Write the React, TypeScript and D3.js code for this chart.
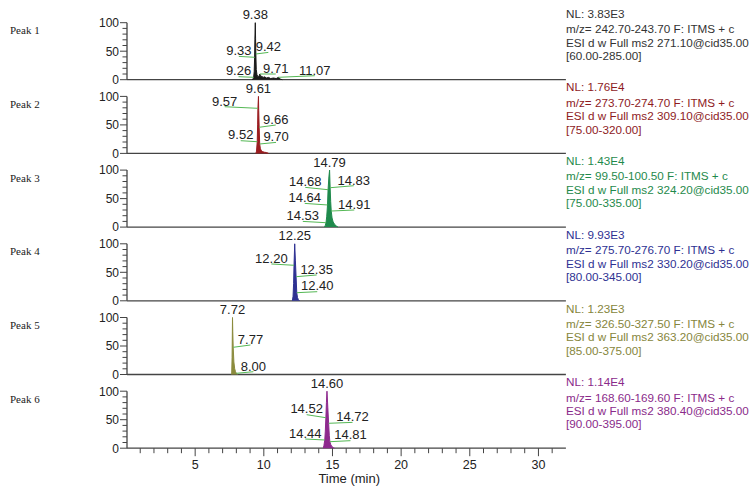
import React from 'react';
import * as d3 from 'd3';

// ---- data ----
const peakNames = ['Peak 1', 'Peak 2', 'Peak 3', 'Peak 4', 'Peak 5', 'Peak 6'];
const nlValues = ['NL: 3.83E3', 'NL: 1.76E4', 'NL: 1.43E4', 'NL: 9.93E3', 'NL: 1.23E3', 'NL: 1.14E4'];
const mzRanges = ['242.70-243.70', '273.70-274.70', '99.50-100.50', '275.70-276.70', '326.50-327.50', '168.60-169.60'];
const precursors = ['271.10', '309.10', '324.20', '330.20', '363.20', '380.40'];
const scanRanges = ['[60.00-285.00]', '[75.00-320.00]', '[75.00-335.00]', '[80.00-345.00]', '[85.00-375.00]', '[90.00-395.00]'];
const timeTicks = [5, 10, 15, 20, 25, 30];
const yTicks = [0, 50, 100];

// [time (min), relative abundance %]
const trace1: [number, number][] = [[9.15, 0], [9.22, 1.5], [9.26, 4.2], [9.30, 14], [9.33, 39.3], [9.35, 70], [9.38, 100], [9.40, 72], [9.42, 45.1], [9.45, 18], [9.50, 9], [9.55, 6], [9.61, 5], [9.66, 7], [9.71, 10], [9.78, 5], [9.85, 6], [9.95, 4], [10.05, 5], [10.2, 3], [10.35, 4], [10.5, 2], [10.7, 3], [10.9, 2], [11.07, 4.2], [11.2, 1], [11.35, 0]];
const trace2: [number, number][] = [[9.42, 0], [9.47, 4], [9.52, 20.5], [9.55, 50], [9.57, 79.1], [9.61, 100], [9.63, 75], [9.66, 45.8], [9.70, 16.5], [9.75, 8], [9.82, 5], [9.92, 3], [10.05, 2], [10.2, 1.5], [10.35, 0]];
const trace3: [number, number][] = [[14.42, 0], [14.48, 3], [14.53, 7.7], [14.58, 18], [14.64, 38.8], [14.68, 65.6], [14.74, 88], [14.79, 100], [14.83, 69.1], [14.87, 45], [14.91, 28.2], [14.97, 16], [15.05, 9], [15.15, 5], [15.28, 2], [15.4, 0]];
const trace4: [number, number][] = [[12.08, 0], [12.13, 8], [12.17, 30], [12.20, 62.3], [12.25, 100], [12.30, 70], [12.35, 42.3], [12.40, 14.2], [12.45, 6], [12.52, 2], [12.6, 0]];
const trace5: [number, number][] = [[7.66, 0], [7.69, 30], [7.72, 100], [7.74, 75], [7.77, 47.7], [7.82, 22], [7.88, 10], [7.94, 5], [8.00, 2.1], [8.08, 0]];
const trace6: [number, number][] = [[14.33, 0], [14.38, 5], [14.44, 14.4], [14.48, 30], [14.52, 53.5], [14.56, 80], [14.60, 100], [14.66, 72], [14.72, 43.7], [14.77, 22], [14.81, 11.4], [14.88, 6], [14.96, 3], [15.05, 1], [15.15, 0]];
const traces = [trace1, trace2, trace3, trace4, trace5, trace6];

// peak labels: rt, height at rt, label centre time, label baseline level (top label has no leader)
type Lab = { rt: number; h: number; lt?: number; ll?: number };
const labels1: Lab[] = [{ rt: 9.38, h: 100 }, { rt: 9.33, h: 39.3, lt: 8.18, ll: 43 }, { rt: 9.42, h: 45.1, lt: 10.33, ll: 50 }, { rt: 9.26, h: 4.2, lt: 8.16, ll: 7.4 }, { rt: 9.71, h: 10, lt: 10.87, ll: 12.1 }, { rt: 11.07, h: 4.2, lt: 13.71, ll: 9.1 }];
const labels2: Lab[] = [{ rt: 9.61, h: 100 }, { rt: 9.57, h: 79.1, lt: 7.15, ll: 84 }, { rt: 9.66, h: 45.8, lt: 10.87, ll: 51.9 }, { rt: 9.52, h: 20.5, lt: 8.32, ll: 24.4 }, { rt: 9.70, h: 16.5, lt: 10.89, ll: 21.4 }];
const labels3: Lab[] = [{ rt: 14.79, h: 100 }, { rt: 14.68, h: 65.6, lt: 13.02, ll: 71.8 }, { rt: 14.83, h: 69.1, lt: 16.55, ll: 74.7 }, { rt: 14.64, h: 38.8, lt: 12.98, ll: 43.7 }, { rt: 14.91, h: 28.2, lt: 16.59, ll: 32.1 }, { rt: 14.53, h: 7.7, lt: 12.84, ll: 12.1 }];
const labels4: Lab[] = [{ rt: 12.25, h: 100 }, { rt: 12.20, h: 62.3, lt: 10.55, ll: 66.7 }, { rt: 12.35, h: 42.3, lt: 13.85, ll: 47.4 }, { rt: 12.40, h: 14.2, lt: 13.89, ll: 18.1 }];
const labels5: Lab[] = [{ rt: 7.72, h: 100 }, { rt: 7.77, h: 47.7, lt: 9.03, ll: 53.9 }, { rt: 8.00, h: 2.1, lt: 9.24, ll: 7 }];
const labels6: Lab[] = [{ rt: 14.60, h: 100 }, { rt: 14.52, h: 53.5, lt: 13.12, ll: 60.9 }, { rt: 14.72, h: 43.7, lt: 16.46, ll: 47.4 }, { rt: 14.44, h: 14.4, lt: 13.02, ll: 18.2 }, { rt: 14.81, h: 11.4, lt: 16.31, ll: 15.3 }];
const peakLabels = [labels1, labels2, labels3, labels4, labels5, labels6];

// ---- styles ----
const colors = ['#1a1a1a', '#9a1c1f', '#1f8a4c', '#2e3192', '#8b8b3d', '#8e2a8e'];
const textColors = ['#333333', '#8e1b1e', '#1f8a4c', '#2e3192', '#86863c', '#8a2a8a'];
const leader = '#55b855';
const axisCol = '#444';
const sans = '"Liberation Sans", Arial, sans-serif';

const W = 750, H = 486;
const top0 = 22.7, step = 73.7, ph = 57;

export default function App() {
  const x = d3.scaleLinear().domain([0, 32]).range([126.5, 565.9]);
  const minorX = d3.range(1, 32);

  return (
    <svg width={W} height={H} style={{ position: 'absolute', left: 0, top: 0, background: '#fff' }}>
      {peakNames.map((name, i) => {
        const t = top0 + i * step;
        const y = d3.scaleLinear().domain([0, 100]).range([t + ph, t]);
        const area = d3.area<[number, number]>().x(d => x(d[0])).y0(y(0)).y1(d => y(d[1]));
        const line = d3.line<[number, number]>().x(d => x(d[0])).y(d => y(d[1]));
        const col = colors[i];
        const tc = textColors[i];
        const right = x(32);
        return (
          <g key={name}>
            <text x={10} y={t + 11.5} fontFamily='"Liberation Serif", "Times New Roman", serif' fontSize={11} fill="#222">{name}</text>
            {/* y axis */}
            <line x1={127} x2={127} y1={t} y2={y(0)} stroke={axisCol} strokeWidth={1.3} />
            {d3.range(0, 101, 10).map(v => (
              <line key={v} x1={127 - (v % 50 === 0 ? 7 : 4.5)} x2={127} y1={y(v)} y2={y(v)} stroke={axisCol} strokeWidth={1} />
            ))}
            {yTicks.map(v => (
              <text key={v} x={119} y={y(v) + 4.3} textAnchor="end" fontFamily={sans} fontSize={12} fill="#222">{v}</text>
            ))}
            {/* baseline */}
            <line x1={127} x2={right} y1={y(0)} y2={y(0)} stroke={axisCol} strokeWidth={1.3} />
            {/* trace */}
            <path d={area(traces[i]) || ''} fill={col} />
            <path d={line(traces[i]) || ''} fill="none" stroke={col} strokeWidth={1} />
            {/* peak labels */}
            {peakLabels[i].map((l, j) => {
              if (l.lt === undefined || l.ll === undefined) {
                return (
                  <text key={j} x={x(l.rt)} y={y(100) - 3.5} textAnchor="middle" fontFamily={sans} fontSize={13} fill="#222">{l.rt.toFixed(2)}</text>
                );
              }
              return (
                <g key={j}>
                  <line x1={x(l.rt)} y1={y(l.h)} x2={x(l.lt)} y2={y(l.ll) + 1.2} stroke={leader} strokeWidth={1} />
                  <text x={x(l.lt)} y={y(l.ll)} textAnchor="middle" fontFamily={sans} fontSize={13} fill="#222">{l.rt.toFixed(2)}</text>
                </g>
              );
            })}
            {/* scan info */}
            <g fontFamily={sans} fontSize={11.7} fill={tc}>
              <text x={566} y={t - 5}>{nlValues[i]}</text>
              <text x={566} y={t + 10.3}>{`m/z= ${mzRanges[i]} F: ITMS + c`}</text>
              <text x={566} y={t + 23.8}>{`ESI d w Full ms2 ${precursors[i]}@cid35.00`}</text>
              <text x={566} y={t + 37.2}>{scanRanges[i]}</text>
            </g>
          </g>
        );
      })}
      {/* x axis ticks on last panel */}
      {(() => {
        const base = top0 + 5 * step + ph;
        return (
          <g>
            {minorX.map(v => (
              <line key={v} x1={x(v)} x2={x(v)} y1={base} y2={base + (v % 5 === 0 ? 8 : 5)} stroke={axisCol} strokeWidth={1} />
            ))}
            {timeTicks.map(v => (
              <text key={v} x={x(v)} y={base + 21} textAnchor="middle" fontFamily={sans} fontSize={12.5} fill="#222">{v}</text>
            ))}
            <text x={(x(0) + x(32)) / 2 + 3} y={483} textAnchor="middle" fontFamily={sans} fontSize={13} fill="#222">Time (min)</text>
          </g>
        );
      })()}
    </svg>
  );
}
